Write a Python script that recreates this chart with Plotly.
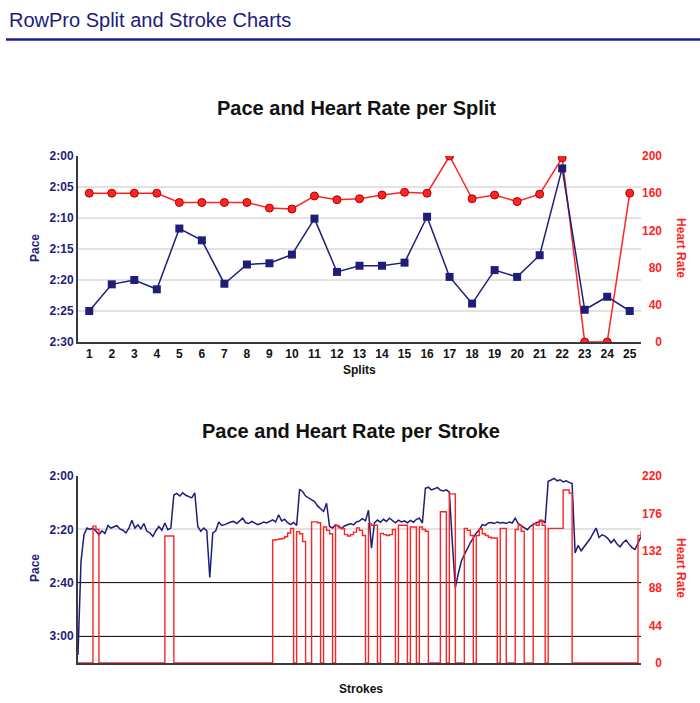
import plotly.graph_objects as go

# ---------------- data ----------------
SPLITS = list(range(1, 26))
# pace per split, seconds per 500m
SPLIT_PACE = [145.0, 140.7, 140.0, 141.5, 131.7, 133.6, 140.6, 137.5, 137.3, 135.9,
              130.1, 138.7, 137.7, 137.7, 137.2, 129.8, 139.5, 143.8, 138.4, 139.5,
              136.0, 122.0, 144.8, 142.7, 145.0]
SPLIT_HR = [160, 160, 160, 160, 150, 150, 150, 150, 144, 143,
            157, 153, 154, 158, 161, 160, 200, 154, 158, 151,
            159, 198, 0, 0, 160]

PACE_TOP_TICKS = [120, 125, 130, 135, 140, 145, 150]
PACE_TOP_LABELS = ["2:00", "2:05", "2:10", "2:15", "2:20", "2:25", "2:30"]
HR_TOP_TICKS = [0, 40, 80, 120, 160, 200]

STROKE_PACE = [
    187, 152, 142, 139.5, 140, 139.5, 140.7, 142, 140.5, 141.5,
    138.5, 139.5, 139, 138.6, 139.8, 140.3, 141.3, 139.5, 136.6, 139.5,
    138.3, 139.8, 137.8, 140.7, 141.3, 142.6, 140.5, 138.9, 140.3, 137.6,
    140.1, 139.5, 127.1, 126.5, 127.5, 126.3, 127.2, 127.8, 128.2, 126.3,
    138.9, 140.7, 139.5, 140.5, 158, 141.3, 140.5, 137.2, 138.5, 138.2,
    137.6, 137.2, 137, 137.8, 136.8, 135.8, 137.5, 137.8, 137, 137.6,
    138.2, 137.8, 137.2, 137.6, 137, 136.4, 137.2, 134.5, 136.8, 136.2,
    137.5, 138.2, 137.4, 138.5, 125, 125.8, 127.5, 128.3, 128.8, 129.6,
    131.2, 132.2, 133.3, 130.2, 138.9, 139.5, 138.3, 138.8, 139.6, 138.7,
    138.2, 137.8, 138.3, 137.2, 136.8, 136, 136.8, 132.8, 147, 137.5,
    136.5, 137.3, 136.2, 137, 135.8, 136.8, 137.5, 136.5, 137.2, 136.8,
    137.5, 136.6, 137.3, 136.2, 135.8, 137.6, 124.6, 124.2, 125.2, 124.8,
    124.3, 125.3, 125.6, 125.2, 126, 145, 161.8, 156.5, 151.9, 149.5,
    147, 145, 143.2, 141.3, 140.2, 138.2, 138.5, 137.6, 137.4, 137.8,
    137.2, 137.6, 137.4, 137.8, 137.2, 137.6, 135.8, 137.8, 138.6, 139.3,
    140.1, 138.9, 138.2, 137.5, 137.2, 136.6, 137.6, 122, 121.5, 120.9,
    121.8, 121.4, 122.2, 121.8, 122.4, 122.8, 148.8, 146, 148, 146.5,
    145, 143.5, 141.5, 139.5, 143, 142, 142.5, 143.5, 145, 143.8,
    145.5, 146.5, 145, 144, 145.5, 146.8, 147.5, 145, 142.7,
]
STROKE_HR = [
    0, 0, 0, 0, 0, 161, 157, 0, 0, 0,
    0, 0, 0, 0, 0, 0, 0, 0, 0, 0,
    0, 0, 0, 0, 0, 0, 0, 0, 0, 149.5,
    149.5, 149.5, 0, 0, 0, 0, 0, 0, 0, 0,
    0, 0, 0, 0, 0, 0, 0, 0, 0, 0,
    0, 0, 0, 0, 0, 0, 0, 0, 0, 0,
    0, 0, 0, 0, 0, 144.7, 145.2, 145.8, 146.5, 148.6,
    153, 158.4, 0, 154.5, 152, 143, 0, 0, 166, 166,
    165, 0, 160, 156, 152, 0, 161.7, 159, 158, 151,
    149.4, 151, 154, 159, 156, 150, 0, 164, 162, 162,
    0, 152.5, 151, 150, 151, 157, 0, 162, 162, 162,
    0, 160, 160, 0, 160, 157, 155, 0, 0, 0,
    0, 178, 178, 0, 199, 199, 0, 0, 0, 158.4,
    156, 150, 0, 150, 158, 152, 150, 148, 147, 147,
    0, 158.4, 158.4, 0, 0, 0, 157, 162, 155, 0,
    0, 0, 164, 162, 168, 162, 0, 158.4, 158.4, 158.4,
    158.4, 158.4, 203.5, 203.5, 200, 0, 0, 0, 0, 0,
    0, 0, 0, 0, 0, 0, 0, 0, 0, 0,
    0, 0, 0, 0, 0, 0, 0, 150, 155,
]
STROKES = list(range(1, len(STROKE_PACE) + 1))

PACE_BOT_TICKS = [120, 140, 160, 180]
PACE_BOT_LABELS = ["2:00", "2:20", "2:40", "3:00"]
PACE_BOT_LIGHT = [120, 140]
PACE_BOT_DARK = [160, 180]
HR_BOT_TICKS = [0, 44, 88, 132, 176, 220]

# ---------------- style ----------------
W, H = 700, 703
NAVY = "#1e1e78"
RED = "#ff2424"
FONT = "Liberation Sans, Arial, sans-serif"
GRID = "#e2e2e2"
AXIS = "#3a3a3a"

def px_x(p):
    return p / W

def px_y(p):
    return 1 - p / H

X_DOM = [px_x(78), px_x(641)]
TOP_DOM = [px_y(342), px_y(156)]
BOT_DOM = [px_y(663), px_y(476)]

def pad(labels):
    w = max(len(s) for s in labels)
    return ["\u00a0" * (2 * (w - len(s))) + s for s in labels]

fig = go.Figure()

# Top chart: HR on base axis (y), pace on overlay (y2) so pace draws on top
fig.add_trace(go.Scatter(
    x=SPLITS, y=SPLIT_HR, xaxis="x", yaxis="y", mode="lines+markers",
    line=dict(color=RED, width=1.5),
    marker=dict(symbol="circle", size=8, color=RED, line=dict(color="#b00000", width=1)),
    showlegend=False, hoverinfo="skip"))
fig.add_trace(go.Scatter(
    x=SPLITS, y=SPLIT_PACE, xaxis="x", yaxis="y2", mode="lines+markers",
    line=dict(color=NAVY, width=1.5),
    marker=dict(symbol="square", size=8, color=NAVY),
    showlegend=False, hoverinfo="skip"))

# Bottom chart
fig.add_trace(go.Scatter(
    x=STROKES, y=STROKE_PACE, xaxis="x2", yaxis="y3", mode="lines",
    line=dict(color=NAVY, width=1.5),
    showlegend=False, hoverinfo="skip"))
fig.add_trace(go.Scatter(
    x=STROKES, y=STROKE_HR, xaxis="x2", yaxis="y4", mode="lines",
    line=dict(color=RED, width=1.4, shape="hv"),
    showlegend=False, hoverinfo="skip"))
# empty trace that carries the dark-grid overlay axis
fig.add_trace(go.Scatter(x=[], y=[], xaxis="x2", yaxis="y5", mode="lines",
                         showlegend=False, hoverinfo="skip"))

tick_navy = dict(family=FONT, size=12, color=NAVY, weight="bold")
tick_red = dict(family=FONT, size=12, color=RED, weight="bold")

fig.update_layout(
    width=W, height=H,
    margin=dict(l=0, r=0, t=0, b=0, pad=0, autoexpand=False),
    paper_bgcolor="white", plot_bgcolor="white",
    xaxis=dict(domain=X_DOM, anchor="y", range=[0.5, 25.5],
               tickvals=SPLITS, ticktext=[str(s) for s in SPLITS],
               tickfont=dict(family=FONT, size=12, color="#111", weight="bold"),
               showgrid=False, zeroline=False, showline=True, linecolor=AXIS,
               linewidth=2, ticks="", layer="below traces", automargin=False),
    yaxis=dict(domain=TOP_DOM, anchor="x", side="right", range=[0, 200],
               tickvals=HR_TOP_TICKS, ticktext=pad([str(v) for v in HR_TOP_TICKS]),
               tickfont=tick_red, showgrid=False, zeroline=False, showline=False,
               ticks="", automargin=False),
    yaxis2=dict(overlaying="y", anchor="x", side="left", range=[150, 120],
                tickvals=PACE_TOP_TICKS, ticktext=PACE_TOP_LABELS, tickfont=tick_navy,
                showgrid=True, gridcolor=GRID, gridwidth=2, zeroline=False,
                showline=True, linecolor=AXIS, linewidth=2, ticks="",
                layer="below traces", automargin=False),
    xaxis2=dict(domain=X_DOM, anchor="y3", range=[1, len(STROKES)],
                showticklabels=False, showgrid=False, zeroline=False,
                showline=True, linecolor=AXIS, linewidth=2, ticks="",
                layer="below traces", automargin=False),
    yaxis3=dict(domain=BOT_DOM, anchor="x2", side="left", range=[190, 120],
                tickvals=PACE_BOT_TICKS, ticktext=PACE_BOT_LABELS, tickfont=tick_navy,
                showgrid=False, zeroline=False,
                showline=True, linecolor=AXIS, linewidth=2, ticks="",
                layer="below traces", automargin=False),
    yaxis4=dict(overlaying="y3", anchor="x2", side="right", range=[0, 220],
                tickvals=HR_BOT_TICKS, ticktext=pad([str(v) for v in HR_BOT_TICKS]),
                tickfont=tick_red, zeroline=False, showline=False,
                ticks="", automargin=False,
                showgrid=False),
    yaxis5=dict(overlaying="y3", anchor="x2", side="left", range=[190, 120],
                tickvals=PACE_BOT_LIGHT + PACE_BOT_DARK, showticklabels=False,
                showgrid=True, gridcolor=GRID, gridwidth=2, zeroline=False,
                showline=False, ticks="", automargin=False),
)

# dark gridlines at 2:40 and 3:00 (thin), drawn as a further overlay axis
fig.update_layout(yaxis6=dict(overlaying="y3", anchor="x2", side="left", range=[190, 120],
                              tickvals=PACE_BOT_DARK, showticklabels=False,
                              showgrid=True, gridcolor="#1a1a1a", gridwidth=1,
                              zeroline=False, showline=False, ticks="", automargin=False))
fig.add_trace(go.Scatter(x=[], y=[], xaxis="x2", yaxis="y6", mode="lines",
                         showlegend=False, hoverinfo="skip"))

fig.update_layout(shapes=[dict(type="line", xref="paper", yref="paper", x0=px_x(6), x1=1,
                               y0=px_y(39.5), y1=px_y(39.5),
                               line=dict(color="#1c1c90", width=2.5))])

def ann(text, x, y, size, color, bold=False, angle=0, xanchor="center"):
    return dict(text=text, x=px_x(x), y=px_y(y), xref="paper", yref="paper",
                showarrow=False, xanchor=xanchor, yanchor="middle", textangle=angle,
                font=dict(family=FONT, size=size, color=color,
                          weight="bold" if bold else "normal"))

fig.update_layout(annotations=[
    ann("RowPro Split and Stroke Charts", 7, 20, 20, "#1c1c7a", xanchor="left"),
    ann("Pace and Heart Rate per Split", 356, 108, 20, "#111", bold=True),
    ann("Pace and Heart Rate per Stroke", 351, 431, 20, "#111", bold=True),
    ann("Pace", 35, 248, 12, NAVY, bold=True, angle=-90),
    ann("Heart Rate", 681, 248, 12, RED, bold=True, angle=90),
    ann("Splits", 360, 370, 12, "#111", bold=True),
    ann("Pace", 35, 568, 12, NAVY, bold=True, angle=-90),
    ann("Heart Rate", 681, 568, 12, RED, bold=True, angle=90),
    ann("Strokes", 361, 689, 12, "#111", bold=True),
])

fig.write_html("out.html",
               config={"displayModeBar": False},
               post_script="document.body.style.margin='0';document.body.style.overflow='hidden';")
